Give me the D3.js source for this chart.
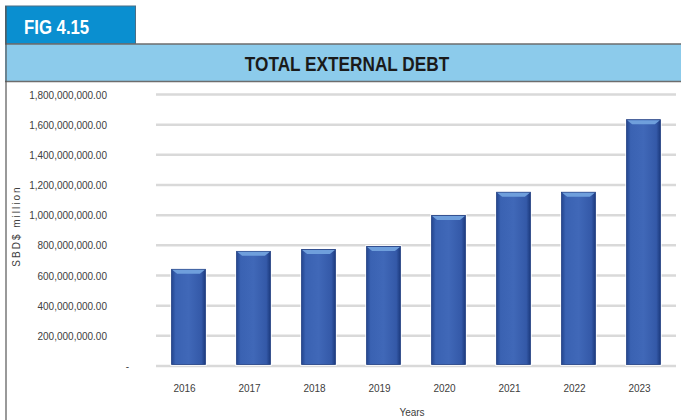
<!DOCTYPE html>
<meta charset="utf-8">
<style>
body { margin: 0; background: #fff; }
svg { display: block; font-family: "Liberation Sans", Arial, sans-serif; }
.narrow { font-family: "Liberation Sans", Arial, sans-serif; font-weight: bold; }
.tick text { fill: #404040; font-size: 10px; }
.grid line { stroke: #d9d9d9; stroke-width: 2.5px; }
</style>
<svg width="681" height="420"></svg>
<script src="https://cdn.jsdelivr.net/npm/d3@7"></script>
<script>

var years = ["2016", "2017", "2018", "2019", "2020", "2021", "2022", "2023"];
var debt = [641000000, 760000000, 773000000, 793000000, 998000000, 1152000000, 1152000000, 1633000000];
var yTicks = [0, 200000000, 400000000, 600000000, 800000000, 1000000000, 1200000000, 1400000000, 1600000000, 1800000000];

var svg = d3.select("svg");

var x = d3.scaleBand()
    .domain(years)
    .range([156, 676])
    .paddingInner(0.48)
    .paddingOuter(0.24);

var y = d3.scaleLinear()
    .domain([0, 1800000000])
    .range([366, 94.5]);

// header boxes
svg.append("rect")
    .attr("x", 5.5).attr("y", 6).attr("width", 130).attr("height", 38)
    .attr("fill", "#0a8fd0").attr("stroke", "#4a6f86").attr("stroke-width", 1);
svg.append("text")
    .attr("class", "narrow")
    .attr("transform", "translate(24,33.5) scale(0.86,1)")
    .attr("fill", "#fff").attr("font-size", "19.5px")
    .text("FIG 4.15");

svg.append("rect")
    .attr("x", 5).attr("y", 44).attr("width", 690).attr("height", 37.5)
    .attr("fill", "#8ccbeb");
svg.append("line").attr("x1", 5).attr("x2", 681).attr("y1", 44).attr("y2", 44)
    .attr("stroke", "#6d6d6d").attr("stroke-width", 1.5);
svg.append("line").attr("x1", 5).attr("x2", 681).attr("y1", 81.5).attr("y2", 81.5)
    .attr("stroke", "#6d6d6d").attr("stroke-width", 1.5);
svg.append("line").attr("x1", 6).attr("x2", 6).attr("y1", 6).attr("y2", 420)
    .attr("stroke", "#555").attr("stroke-width", 1.2);

svg.append("text")
    .attr("class", "narrow")
    .attr("transform", "translate(347,70.5) scale(0.84,1)")
    .attr("text-anchor", "middle")
    .attr("fill", "#1a1a1a").attr("font-size", "20.5px")
    .text("TOTAL EXTERNAL DEBT");

// gridlines
svg.append("g")
    .attr("class", "grid")
  .selectAll("line")
  .data(yTicks)
  .enter().append("line")
    .attr("x1", 156).attr("x2", 676)
    .attr("y1", function(d) { return y(d); })
    .attr("y2", function(d) { return y(d); });

// y axis
var yAxis = svg.append("g")
    .attr("transform", "translate(107,0)")
    .call(d3.axisLeft(y)
      .tickValues(yTicks)
      .tickSize(0)
      .tickPadding(0)
      .tickFormat(function(d) { return d === 0 ? "-" : d3.format(",.2f")(d); }));
yAxis.select(".domain").remove();
yAxis.selectAll(".tick text")
    .attr("dy", "0.35em")
    .attr("x", function(d) { return d === 0 ? 22 : 0; });

// x axis
var xAxis = svg.append("g")
    .attr("transform", "translate(-4,388)")
    .call(d3.axisBottom(x).tickSize(0).tickPadding(0));
xAxis.select(".domain").remove();
xAxis.selectAll(".tick text").attr("dy", "0.35em");

// bar gradient
var defs = svg.append("defs");
var grad = defs.append("linearGradient").attr("id", "barGrad")
    .attr("x1", "0").attr("x2", "1").attr("y1", "0").attr("y2", "0");
grad.append("stop").attr("offset", "0%").attr("stop-color", "#24468f");
grad.append("stop").attr("offset", "12%").attr("stop-color", "#3a62b2");
grad.append("stop").attr("offset", "50%").attr("stop-color", "#4068b8");
grad.append("stop").attr("offset", "88%").attr("stop-color", "#3459a8");
grad.append("stop").attr("offset", "100%").attr("stop-color", "#1c3a7e");

var bars = svg.append("g").selectAll("g")
  .data(years)
  .enter().append("g");

bars.append("rect")
    .attr("x", function(d) { return x(d); })
    .attr("y", function(d, i) { return y(debt[i]); })
    .attr("width", x.bandwidth())
    .attr("height", function(d, i) { return y(0) - 1.5 - y(debt[i]); })
    .attr("fill", "url(#barGrad)")
    .attr("stroke", "#fff")
    .attr("stroke-width", 2.5)
    .attr("paint-order", "stroke");

bars.append("rect")
    .attr("x", function(d) { return x(d); })
    .attr("y", function(d, i) { return y(debt[i]); })
    .attr("width", x.bandwidth())
    .attr("height", function(d, i) { return y(0) - 1.5 - y(debt[i]); })
    .attr("fill", "none")
    .attr("stroke", "#1e3c80")
    .attr("stroke-width", 0.8);

// top bevel
bars.append("path")
    .attr("fill", "#6f9fdc")
    .attr("d", function(d, i) {
      var x0 = x(d) + 0.5, x1 = x(d) + x.bandwidth() - 0.5, t = y(debt[i]) + 0.5;
      return "M" + x0 + "," + t + "L" + x1 + "," + t + "L" + (x1 - 5) + "," + (t + 4) + "L" + (x0 + 5) + "," + (t + 4) + "Z";
    });

// axis titles
svg.append("text")
    .attr("x", 412).attr("y", 416)
    .attr("text-anchor", "middle")
    .attr("fill", "#404040").attr("font-size", "10px")
    .text("Years");

svg.append("text")
    .attr("transform", "translate(20,226) rotate(-90)")
    .attr("text-anchor", "middle")
    .attr("fill", "#404040").attr("font-size", "10px")
    .attr("letter-spacing", "2px")
    .text("SBD$ million");

</script>
